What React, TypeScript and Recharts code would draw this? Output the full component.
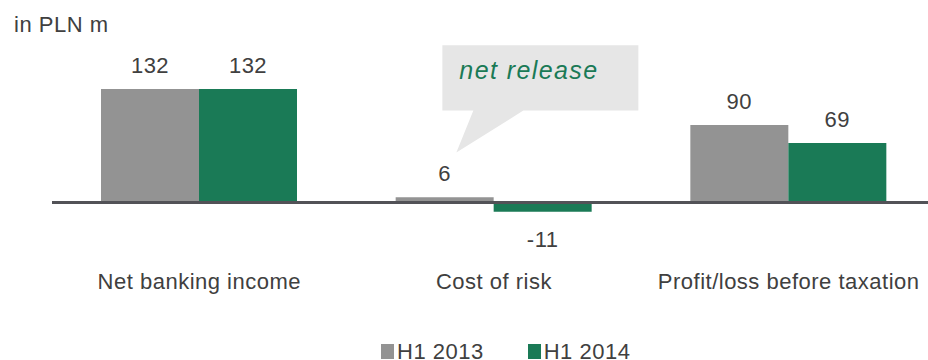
import React from 'react';
import { BarChart, Bar, XAxis, YAxis, ReferenceLine, LabelList, Legend } from 'recharts';

// Categories, series and legend names
const categories = ['Net banking income', 'Cost of risk', 'Profit/loss before taxation'];
const h1_2013 = [132, 6, 90];
const h1_2014 = [132, -11, 69];
const seriesNames = ['H1 2013', 'H1 2014'];
const unitLabel = 'in PLN m';
const calloutText = 'net release';

const data = categories.map((name, i) => ({
  name,
  a: h1_2013[i],
  b: h1_2014[i],
}));

const FONT = "'Liberation Sans', Arial, sans-serif";
const TEXT = '#404040';
const GRAY = '#939393';
const GREEN = '#1a7a56';
const AXIS = '#525257';

const ValueLabel = (props: any) => {
  const { x, y, width, height, value } = props;
  const top = Math.min(y, y + height);
  const bottom = Math.max(y, y + height);
  const cx = x + width / 2;
  const ty = value < 0 ? bottom + 35 : top - 16;
  return (
    <text x={cx} y={ty} textAnchor="middle" fontFamily={FONT} fontSize={22} letterSpacing={0.5} fill={TEXT}>
      {value}
    </text>
  );
};

// Grey series label; the cost-of-risk bar also carries the speech bubble
const GrayLabel = (props: any) => {
  const { x, y, height, index } = props;
  const top = Math.min(y, y + height);
  return (
    <g>
      {index === 1 && (
        <g>
          <path
            d={`M${x + 46.7},${top - 152} H${x + 242.7} V${top - 86.7} H${x + 127.7} L${x + 60.7},${top - 44.7} L${x + 77.7},${top - 86.7} H${x + 46.7} Z`}
            fill="#e6e6e6"
          />
          <text x={x + 63.7} y={top - 118.7} fontFamily={FONT} fontSize={25} fontStyle="italic" letterSpacing={1.4} fill={GREEN}>
            {calloutText}
          </text>
        </g>
      )}
      <ValueLabel {...props} />
    </g>
  );
};

const CategoryTick = (props: any) => {
  const { x, y, payload } = props;
  return (
    <text x={x} y={y + 35} textAnchor="middle" fontFamily={FONT} fontSize={22} letterSpacing={0.5} fill={TEXT}>
      {payload.value}
    </text>
  );
};

const LegendContent = (props: any) => {
  const { payload } = props;
  return (
    <div style={{ display: 'flex', alignItems: 'flex-start', paddingLeft: 381, fontFamily: FONT, fontSize: 22, lineHeight: '24px', letterSpacing: 0.5, color: TEXT }}>
      {(payload || []).map((p: any, i: number) => (
        <div key={i} style={{ display: 'flex', alignItems: 'flex-start', marginRight: 44 }}>
          <div style={{ width: 13, height: 15, background: p.color, marginTop: 4, marginRight: 3 }} />
          <span style={{ whiteSpace: 'nowrap' }}>{p.value}</span>
        </div>
      ))}
    </div>
  );
};

export default function App() {
  return (
    <div style={{ position: 'fixed', left: 0, top: 0, width: 928, height: 360, overflow: 'hidden', background: '#fff' }}>
      <div style={{ position: 'absolute', left: 14, top: 13, fontFamily: FONT, fontSize: 22, lineHeight: '24px', letterSpacing: 0.5, color: TEXT, whiteSpace: 'nowrap' }}>
        {unitLabel}
      </div>
      <BarChart
        width={936}
        height={360}
        data={data}
        margin={{ top: 82, right: 0, bottom: 66, left: 52 }}
        barGap={0}
        barSize={98}
      >
        <XAxis
          dataKey="name"
          axisLine={false}
          tickLine={false}
          tickSize={0}
          tickMargin={0}
          height={40}
          tick={<CategoryTick />}
          interval={0}
        />
        <YAxis hide domain={[-60, 140]} />
        <Legend
          layout="horizontal"
          verticalAlign="middle"
          align="center"
          wrapperStyle={{ position: 'absolute', left: 0, top: 339.7, width: 928, height: 24 }}
          content={<LegendContent />}
        />
        <Bar dataKey="a" name={seriesNames[0]} fill={GRAY} isAnimationActive={false}>
          <LabelList dataKey="a" content={<GrayLabel />} />
        </Bar>
        <Bar dataKey="b" name={seriesNames[1]} fill={GREEN} isAnimationActive={false}>
          <LabelList dataKey="b" content={<ValueLabel />} />
        </Bar>
        <ReferenceLine y={0} stroke={AXIS} strokeWidth={3} />
      </BarChart>
    </div>
  );
}
